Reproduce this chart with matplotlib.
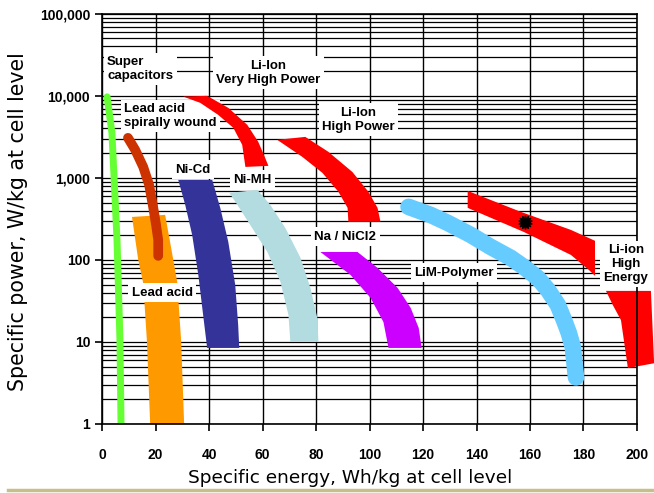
import numpy as np
import matplotlib.pyplot as plt
import matplotlib.ticker as mticker
from matplotlib.lines import Line2D

# --- データ (比エネルギー Wh/kg, 比出力 W/kg) ---
# 線で描くもの（中心線）
supercap_energy = [1.9, 3.7, 4.9, 5.6, 6.7, 7.1]
supercap_power = [9730, 3540, 540, 175, 10.6, 1.0]

spiral_energy = [9.7, 12.4, 15.4, 17.6, 19.1, 20.2, 21.0, 21.0]
spiral_power = [3075, 2195, 1360, 822, 443, 267, 175, 112]

polymer_energy = [114.6, 122.8, 129.2, 137.8, 145.3, 152.8, 157.7, 162.9,
                  166.7, 170.4, 172.7, 174.5, 176.0, 177.2]
polymer_power = [443, 354, 283, 202, 144, 106, 82, 60.3,
                 43, 28.3, 18.5, 12.9, 8.7, 3.7]

# 帯で描くもの（輪郭）
leadacid_energy = [11.2, 23.6, 26.6, 28.1, 29.6, 30.7, 18.0, 16.8, 15.4, 13.5]
leadacid_power = [334, 354, 102, 54, 10, 1.0, 1.0, 10, 52, 102]

nicd_energy = [28.5, 41.2, 44.2, 47.2, 49.8, 50.9, 51.3,
               39.3, 37.8, 36.0, 33.7, 31.1]
nicd_power = [945, 945, 431, 166, 49.6, 16.1, 8.45,
              8.45, 21.3, 65.6, 202, 469]

nimh_energy = [47.6, 58.1, 62.9, 68.5, 74.2, 77.9, 80.5, 80.9,
               70.4, 69.7, 66.7, 61.8, 55.4, 50.6]
nimh_power = [656, 714, 469, 246, 106, 45.6, 19.6, 10,
              10, 21.3, 54, 125, 267, 469]

vhp_energy = [30.3, 39.3, 47.2, 54.3, 58.4, 61.0, 62.2,
              53.6, 52.4, 49.1, 43.4, 36.7]
vhp_power = [9800, 10000, 7140, 4430, 2750, 1750, 1400,
             1360, 2530, 4070, 5870, 8220]

hp_energy = [65.5, 76.0, 84.6, 93.6, 99.6, 103.0, 104.1,
             92.1, 91.8, 88.4, 82.4, 74.9]
hp_power = [2910, 3160, 2080, 1180, 675, 431, 291,
            291, 431, 675, 1150, 1800]

nacl_energy = [81.6, 95.5, 103.0, 110.5, 115.4, 118.4, 119.5,
               107.1, 105.2, 100.4, 92.9, 86.5]
nacl_power = [125, 125, 79.9, 45.6, 26, 14.8, 8.45,
              8.45, 17.5, 34.4, 65.6, 94.6]

he_upper_energy = [136.7, 156.6, 175.3, 184.3, 184.3, 182.0, 175.3, 157.7, 136.7]
he_upper_power = [694, 385, 232, 171, 64, 75.5, 115, 219, 431]

he_lower_energy = [188.4, 205.2, 206.4, 196.6, 194.0, 191.0]
he_lower_power = [41.9, 41.9, 5.5, 4.8, 18.5, 28]

# 代表点
dot_energy = [158.1]
dot_power = [290]

x_ticks = list(range(0, 201, 20))
y_ticks = [1, 10, 100, 1000, 10000, 100000]

# --- 描画 ---
fig = plt.figure(figsize=(6.54, 4.93), dpi=100)
ax = fig.add_axes([0.156, 0.140, 0.818, 0.832])

ax.set_yscale('log')
ax.set_xlim(0, 200)
ax.set_ylim(1, 100000)
ax.set_axisbelow(True)

ax.yaxis.set_minor_locator(mticker.LogLocator(base=10, subs=np.arange(2, 10)))
ax.yaxis.set_minor_formatter(mticker.NullFormatter())
ax.set_yticks(y_ticks)
ax.set_yticklabels([f'{v:,}' for v in y_ticks])
ax.set_xticks(x_ticks)
ax.grid(axis='y', which='both', color='black', lw=0.9)
ax.grid(axis='x', which='major', color='black', lw=1.0)

for s in ax.spines.values():
    s.set_linewidth(1.2)
ax.tick_params(axis='both', which='major', length=5, width=1.2,
               labelsize=10)
ax.tick_params(axis='x', pad=12)
ax.tick_params(axis='y', which='minor', length=0)
for lab in ax.get_xticklabels() + ax.get_yticklabels():
    lab.set_fontfamily('Liberation Sans')
    lab.set_fontweight('bold')

# 帯
ax.fill(leadacid_energy, leadacid_power, color='#FF9900', lw=0)
ax.fill(nicd_energy, nicd_power, color='#333399', lw=0)
ax.fill(nimh_energy, nimh_power, color='#B2DCE0', lw=0)
ax.fill(vhp_energy, vhp_power, color='#FF0000', lw=0, zorder=3.5)
ax.fill(hp_energy, hp_power, color='#FF0000', lw=0)
ax.fill(nacl_energy, nacl_power, color='#CC00FF', lw=0)
ax.fill(he_upper_energy, he_upper_power, color='#FF0000', lw=0)
ax.fill(he_lower_energy, he_lower_power, color='#FF0000', lw=0, clip_on=False)

# 線
ax.plot(supercap_energy, supercap_power, color='#66FF33', lw=5,
        solid_capstyle='round', solid_joinstyle='round')
ax.plot(spiral_energy, spiral_power, color='#CC3300', lw=7,
        solid_capstyle='round', solid_joinstyle='round')
ax.plot(polymer_energy, polymer_power, color='#66CCFF', lw=12,
        solid_capstyle='round', solid_joinstyle='round')
ax.plot(dot_energy, dot_power, ls='none', marker=(14, 1, 0), ms=10,
        color='black')

# ラベル
box = dict(facecolor='white', edgecolor='none', pad=2.5)
lab_kw = dict(fontsize=9.5, fontweight='bold', family='Liberation Sans',
              bbox=box, va='center', linespacing=1.2)
ax.text(1.9, 21300, 'Super\ncapacitors', ha='left', **lab_kw)
ax.text(62.2, 19100, 'Li-Ion\nVery High Power', ha='center', **lab_kw)
ax.text(8.2, 5700, 'Lead acid\nspirally wound', ha='left', **lab_kw)
ax.text(95.9, 5100, 'Li-Ion\nHigh Power', ha='center', **lab_kw)
ax.text(34.1, 1250, 'Ni-Cd', ha='center', **lab_kw)
ax.text(56.2, 945, 'Ni-MH', ha='center', **lab_kw)
ax.text(91.0, 191, 'Na / NiCl2', ha='center', **lab_kw)
ax.text(22.5, 39.6, 'Lead acid', ha='center', **lab_kw)
ax.text(131.5, 69.4, 'LiM-Polymer', ha='center', **lab_kw)
ax.text(195.9, 89.4, 'Li-ion\nHigh\nEnergy', ha='center', **lab_kw)

# 軸ラベル
ax.set_xlabel('Specific energy, Wh/kg at cell level', fontsize=13.3,
              family='DejaVu Sans', va='center')
ax.set_ylabel('Specific power, W/kg at cell level', fontsize=14.8,
              family='DejaVu Sans', va='center')
ax.xaxis.set_label_coords(0.464, -0.132)
ax.yaxis.set_label_coords(-0.157, 0.493)

# 下部の装飾線
fig.add_artist(Line2D([0.012, 1.0], [0.006, 0.006], color='#C8BE8C', lw=2.5))

fig.savefig('out.png', dpi=100)
